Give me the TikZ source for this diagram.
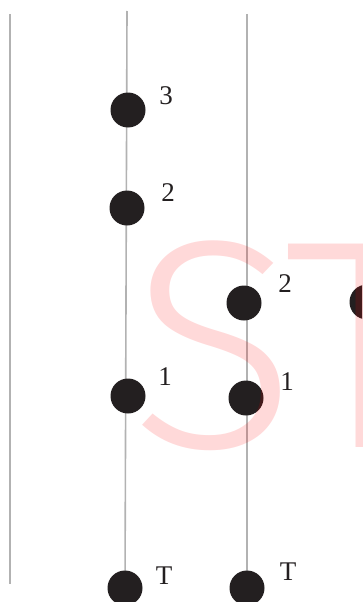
\documentclass[tikz,border=0pt]{standalone}
\usepackage{fontspec}
\setmainfont{Liberation Serif}
\newfontfamily\stfont{Fira Sans Light}
\usetikzlibrary{positioning,backgrounds}

\definecolor{dotblack}{RGB}{35,31,32}

\begin{document}
\begin{tikzpicture}[x=1pt, y=-1pt,
    strand/.style={draw=black!30, line width=1.6pt},
    dot/.style={circle, fill=dotblack, minimum size=35pt, inner sep=0pt},
    tag/.style={font=\fontsize{27}{27}\selectfont, text=dotblack, inner sep=0pt},
    watermark/.style={font=\stfont\fontsize{297}{297}\selectfont, text=red, opacity=0.15, inner sep=0pt}]

    \useasboundingbox (0,0) rectangle (362,602);
    \clip (0,0) rectangle (362,602);

    % strand ends
    \coordinate (top1) at (10,14);
    \coordinate (bot1) at (10,584);
    \coordinate (top2) at (127,11);
    \coordinate (top3) at (247,14);

    % dots
    \node (d3) [dot] at (128,110) {};
    \node (d2) [dot] at (127,208) {};
    \node (d1) [dot] at (128,396) {};
    \node (t2) [dot] at (125,588) {};
    \node (e2) [dot] at (244,303) {};
    \node (e1) [dot] at (246,398) {};
    \node (t3) [dot] at (247,588) {};
    \node (f2) [dot] at (367,302) {};

    \begin{scope}[on background layer]
        \draw [strand] (top1) -- (bot1);
        \draw [strand] (top2) -- (t2.center);
        \draw [strand] (top3) -- (t3.center);
    \end{scope}

    % labels
    \node (l3) [tag] at (166,96) {3};
    \node (l2) [tag] at (168,193) {2};
    \node (l1) [tag] at (165,377) {1};
    \node (lt) [tag] at (164,576) {T};
    \node (m2) [tag] at (285,284) {2};
    \node (m1) [tag] at (287,382) {1};
    \node (mt) [tag] at (288,572) {T};

    % watermark
    \node (ws) [watermark, xscale=1.04, anchor=base west] at (130,447) {S};
    \node (wt) [watermark, xscale=1.12, anchor=base west] at (283,447) {T};
\end{tikzpicture}
\end{document}
